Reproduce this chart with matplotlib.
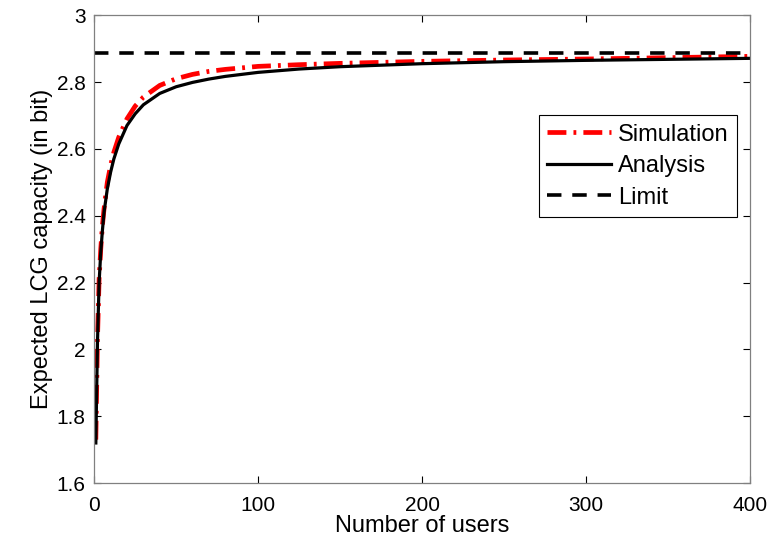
import matplotlib
matplotlib.use("Agg")
import matplotlib.pyplot as plt

# values
n_users = [1, 2, 3, 4, 5, 6, 8, 10, 12, 15, 20, 25, 30, 40, 50, 60, 70, 80,
           100, 125, 150, 200, 250, 300, 350, 400]
analysis = [1.72, 2.02, 2.20, 2.29, 2.355, 2.41, 2.48, 2.53, 2.57, 2.615, 2.67,
            2.705, 2.732, 2.766, 2.786, 2.799, 2.809, 2.817, 2.829, 2.839,
            2.846, 2.855, 2.861, 2.865, 2.868, 2.871]
simulation = [1.73, 2.03, 2.21, 2.30, 2.37, 2.42, 2.50, 2.55, 2.59, 2.635, 2.69,
              2.728, 2.755, 2.79, 2.81, 2.823, 2.832, 2.838, 2.847, 2.852,
              2.856, 2.862, 2.866, 2.869, 2.873, 2.877]
limit_value = 2.887

xticks = [0, 100, 200, 300, 400]
yticks = [1.6, 1.8, 2.0, 2.2, 2.4, 2.6, 2.8, 3.0]
ytick_labels = ["1.6", "1.8", "2", "2.2", "2.4", "2.6", "2.8", "3"]

plt.rcParams["font.family"] = ["Liberation Sans", "DejaVu Sans"]

fig = plt.figure(figsize=(7.72, 5.44), dpi=100)
ax = fig.add_axes([0.122, 0.112, 0.8495, 0.860])

ax.plot(n_users, simulation, color="red", linestyle="-.", linewidth=3.4,
        dashes=(4, 1.5, 0.6, 1.5), label="Simulation")
ax.plot(n_users, analysis, color="black", linewidth=2.3, label="Analysis")
ax.axhline(limit_value, color="black", linestyle="--", linewidth=2.6,
           dashes=(4, 3), label="Limit")

ax.set_xlim(0, 400)
ax.set_ylim(1.6, 3.0)
ax.set_xticks(xticks)
ax.set_yticks(yticks)
ax.set_yticklabels(ytick_labels)
ax.tick_params(direction="in", top=True, right=True, length=5, width=0.8,
               labelsize=15, pad=6)
ax.tick_params(axis="x", pad=9)
for s in ax.spines.values():
    s.set_color("0.5")
    s.set_linewidth(0.9)

ax.set_xlabel("Number of users", fontsize=17, labelpad=0)
ax.set_ylabel("Expected LCG capacity (in bit)", fontsize=17, labelpad=3)

leg = ax.legend(loc="upper right", bbox_to_anchor=(0.98, 0.786),
                fancybox=False, edgecolor="black", framealpha=1,
                fontsize=17, handlelength=2.7, borderpad=0.35,
                labelspacing=0.4, handletextpad=0.3, borderaxespad=0)
leg.get_frame().set_linewidth(0.8)

fig.savefig("out.png", dpi=100)
